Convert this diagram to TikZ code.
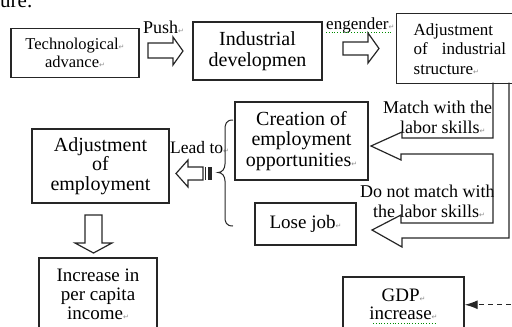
\documentclass[tikz,border=0pt]{standalone}
\usepackage{fontspec}
\setmainfont{Liberation Serif}
\newfontfamily\marksfont{DejaVu Sans}
\usetikzlibrary{arrows.meta,calc}
% paragraph mark shown after line ends
\newcommand{\retmark}{{\marksfont\fontsize{7}{7}\selectfont\textcolor{black!45}{↵}}}
\newcommand{\fs}[2]{\fontsize{#1}{#2}\selectfont}
\begin{document}
\begin{tikzpicture}[x=1pt,y=-1pt,
  box/.style={draw=black!85,line width=1.4pt,inner sep=0pt,align=center,text=black},
  lbl/.style={anchor=base west,inner sep=0pt,text=black},
  blockarrow/.style={draw=black!85,line width=1.2pt,line join=miter},
  squiggle/.style={draw=green!55!black,dotted,line width=0.8pt}]
\useasboundingbox (0,0) rectangle (512,327);
\clip (0,0) rectangle (512,327);

% tail of the preceding sentence
\node[lbl,font=\fs{21}{21}] (frag) at (0,7) {ure.};

% boxes
\node[box,font=\fs{16.5}{18},minimum width=128pt,minimum height=49pt] (tech) at (75,53) {Technological\retmark\\advance\retmark};
\node[box,font=\fs{20}{21},minimum width=129pt,minimum height=58pt] (ind) at (257.5,51) {Industrial\\developmen};
\node[box,anchor=north west,font=\fs{17}{19.5},text width=110pt,inner xsep=17pt,align=left,minimum height=70pt] (adjind) at (396,13) {Adjustment\\of\hspace{14pt}industrial\\structure\retmark};
\node[box,font=\fs{20}{20.5},minimum width=133pt,minimum height=78pt] (create) at (301.5,141) {Creation of\\employment\\opportunities\retmark};
\node[box,font=\fs{19}{19},minimum width=101pt,minimum height=42pt] (lose) at (305.5,224) {Lose job\retmark};
\node[box,font=\fs{20}{19.5},minimum width=137pt,minimum height=74pt] (adjemp) at (100.5,166) {Adjustment\\of\\employment};
\node[box,font=\fs{19}{19},minimum width=118pt,minimum height=73pt] (income) at (98,294.5) {Increase in\\per capita\\income\retmark};
\node[box,font=\fs{19}{18},minimum width=121pt,minimum height=55.5pt] (gdp) at (403.5,304.75) {GDP\retmark\\increase\retmark};

% labels
\node[lbl,font=\fs{18}{18}] (push) at (143,33) {Push\retmark};
\node[lbl,font=\fs{17}{17}] (engender) at (326,29) {engender\retmark};
\node[lbl,font=\fs{17.5}{17.5}] (leadto) at (170,153) {Lead to\retmark};
\node[lbl,font=\fs{18}{18}] (match1) at (383,113) {Match with the};
\node[lbl,font=\fs{18}{18}] (match2) at (400,133) {labor skills\retmark};
\begin{scope}
  \clip (350,180) rectangle (493,205);
  \node[lbl,font=\fs{18}{18}] (nomatch1) at (360,197) {Do not match with};
\end{scope}
\node[lbl,font=\fs{18}{18}] (nomatch2) at (373,217) {the labor skills\retmark};

% spell-check marks
\draw[squiggle] (326,32) -- (392,32);
\draw[squiggle] (373,323.5) -- (436,323.5);

% block arrows
\draw[blockarrow] (148,43) -- (173,43) -- (173,37) -- (183,51) -- (173,65) -- (173,58) -- (148,58) -- cycle;
\draw[blockarrow] (343,42) -- (368,42) -- (368,33) -- (379,48.5) -- (368,63) -- (368,55) -- (343,55) -- cycle;
\draw[blockarrow] (176,173.5) -- (188,160) -- (188,167) -- (203,167) -- (203,180) -- (188,180) -- (188,187) -- cycle;
\fill[black!85] (204.5,167) rectangle (205.8,180);
\fill[black!85] (207.5,167) rectangle (212,180);
\draw[blockarrow] (85,215) -- (102,215) -- (102,243) -- (112,243) -- (93.5,253) -- (75,243) -- (85,243) -- cycle;

% branching arrow from the structure box
\draw[blockarrow] (493,82.5) -- (493,138) -- (402,138) -- (402,132) -- (371,146) -- (401,160) -- (401,154) -- (493,154)
  -- (493,223) -- (401,223) -- (401,215) -- (372,230) -- (402,247) -- (402,238) -- (509,238) -- (509,82.5);

% brace grouping the two outcomes
\draw[black!85,line width=1pt] (233,120) .. controls (226,120) and (225,124) .. (225,130) -- (225,164)
  .. controls (225,169) and (222,172.5) .. (218,172.5) .. controls (222,172.5) and (225,176) .. (225,181)
  -- (225,217) .. controls (225,222) and (226,226) .. (233,226);

% dashed input to GDP
\coordinate (gdpin) at (520,304.75);
\draw[black!85,line width=1.2pt,dash pattern=on 5pt off 4pt,-{Latex[length=13pt,width=9pt]}] (gdpin) -- (gdp.east);
\end{tikzpicture}
\end{document}
